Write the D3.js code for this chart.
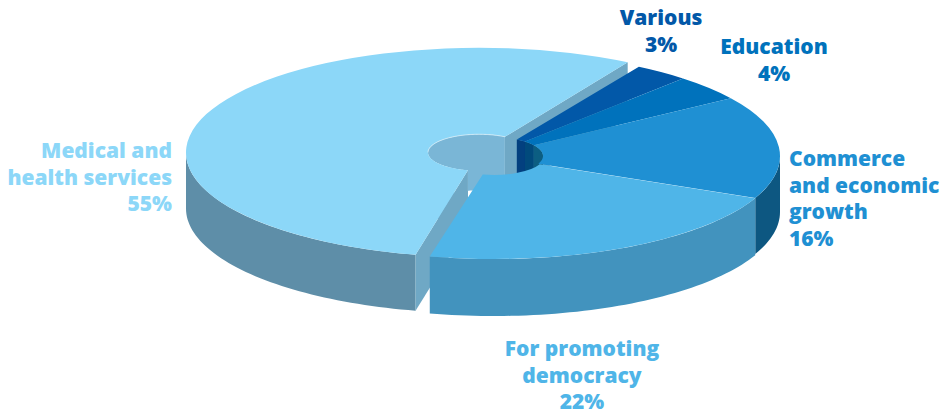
<!DOCTYPE html>
<html>
<head>
<meta charset="utf-8">
<script src="https://cdnjs.cloudflare.com/ajax/libs/d3/7.8.5/d3.min.js"></script>
<style>
  html, body { margin: 0; padding: 0; background: #fff; }
  svg { display: block; }
  text { font-family: "Open Sans", sans-serif; font-weight: 800; font-size: 21px; }
</style>
</head>
<body>
<svg id="chart" width="947" height="412"></svg>
<script>
// Aid by sector, in percent, clockwise from the top right of the pie.
const categories = ["Various", "Education", "Commerce and economic growth", "For promoting democracy", "Medical and health services"];
const shares = [3, 4, 16, 22, 55];
const labelLines = [
  ["Various"],
  ["Education"],
  ["Commerce", "and economic", "growth"],
  ["For promoting", "democracy"],
  ["Medical and", "health services"]
];

const topColours = ["#0258a8", "#0072bc", "#1f90d3", "#4fb5e8", "#8cd7f8"];
const sideColours = ["#03407f", "#004a7a", "#0d5781", "#4293be", "#5e8ea8"];
const innerWallColours = ["#03407f", "#014a7c", "#0c5e82", null, "#7ab6d6"];
const cutColour = "#6fa8c5";

// Placement of each label: anchor, x, and the baseline of its first line.
const labelAnchor = ["middle", "middle", "start", "middle", "end"];
const labelX = [661, 774, 789, 582, 172];
const labelY = [25, 54, 166, 356, 158];
const lineStep = 26.5;

const tilt = 104 / 291;
const rad = d => d * Math.PI / 180;

// Each group of slices has its own centre, radius and wall height; the largest
// slice is pulled out to the left and turned a little, the democracy slice is
// nudged right.
const mainPart = { x: 489, y: 156, r: 291, hole: 54, turn: 0, depth: 56 };
const democracyPart = { x: 494, y: 157, r: 285.5, hole: 50, turn: 0, depth: 57 };
const pulledPart = { x: 479, y: 152.5, r: 293, hole: 51, turn: rad(-0.5), depth: 56 };

const pie = d3.pie().sort(null).startAngle(rad(31)).endAngle(rad(391));
const slices = pie(shares);

const svg = d3.select("#chart");
const line = d3.line();

const at = (c, r, a, drop = 0) => [c.x + r * Math.sin(a), c.y - r * tilt * Math.cos(a) + drop];

// Sample an arc of the ellipse between two angles.
function arcPoints(c, r, a0, a1, drop = 0) {
  const n = Math.max(2, Math.ceil(Math.abs(a1 - a0) / rad(1.5)));
  return d3.range(n + 1).map(i => at(c, r, a0 + (a1 - a0) * i / n, drop));
}

// Vertical wall hanging below an arc of the ellipse.
function wall(c, r, a0, a1, fill) {
  const pts = arcPoints(c, r, a0, a1).concat(arcPoints(c, r, a1, a0, c.depth));
  svg.append("path").attr("d", line(pts) + "Z").attr("fill", fill);
}

// Flat cut face running along a radius of the ellipse.
function cutFace(c, a) {
  const pts = [at(c, c.hole, a), at(c, c.r, a), at(c, c.r, a, c.depth), at(c, c.hole, a, c.depth)];
  svg.append("path").attr("d", line(pts) + "Z").attr("fill", cutColour);
}

function topFace(c, s, fill) {
  const path = d3.arc().innerRadius(c.hole).outerRadius(c.r)
    .startAngle(s.startAngle + c.turn).endAngle(s.endAngle + c.turn);
  svg.append("path")
    .attr("d", path())
    .attr("transform", `translate(${c.x},${c.y}) scale(1,${tilt})`)
    .attr("fill", fill);
}

function frontWall(c, s, fill) {
  const a0 = Math.max(s.startAngle + c.turn, rad(90));
  const a1 = Math.min(s.endAngle + c.turn, rad(270));
  if (a1 > a0) wall(c, c.r, a0, a1, fill);
}

const partOf = i => (i === 3 ? democracyPart : mainPart);

// The pulled-out slice sits behind the rest of the pie.
const pulled = slices[4];
const a0 = pulled.startAngle + pulledPart.turn;
const a1 = pulled.endAngle + pulledPart.turn;
frontWall(pulledPart, pulled, sideColours[4]);
wall(pulledPart, pulledPart.hole, a0, a1, innerWallColours[4]);
cutFace(pulledPart, a0);
cutFace(pulledPart, a1);
topFace(pulledPart, pulled, topColours[4]);
svg.append("path")
  .attr("d", line(arcPoints(pulledPart, pulledPart.hole, rad(270), a1)))
  .attr("fill", "none").attr("stroke", "#d8eef8").attr("stroke-width", 0.8);

// Inner walls that show through the hole of the main pie.
slices.slice(0, 3).forEach((s, i) => {
  wall(mainPart, mainPart.hole, s.startAngle, Math.min(s.endAngle, rad(90)), innerWallColours[i]);
});

// Outer walls, then the top faces of the remaining slices.
slices.slice(0, 4).forEach((s, i) => frontWall(partOf(i), s, sideColours[i]));
slices.slice(0, 4).forEach((s, i) => topFace(partOf(i), s, topColours[i]));

// Labels: category lines followed by the share.
const labels = svg.selectAll("g.label")
  .data(categories)
  .join("g")
  .attr("class", "label")
  .attr("fill", (d, i) => topColours[i])
  .attr("text-anchor", (d, i) => labelAnchor[i]);

labels.each(function (d, i) {
  const lines = labelLines[i].concat(shares[i] + "%");
  d3.select(this).selectAll("text")
    .data(lines)
    .join("text")
    .attr("x", labelX[i])
    .attr("y", (t, k) => labelY[i] + k * lineStep)
    .text(t => t);
});
</script>
</body>
</html>
